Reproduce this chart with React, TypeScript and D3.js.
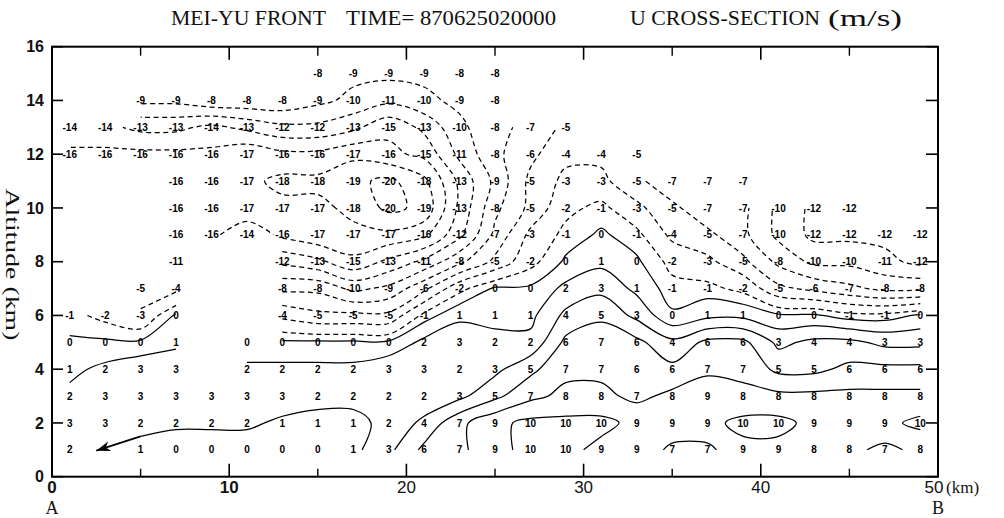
import React from 'react'
import * as d3 from 'd3'

const width = 1004
const height = 518

// grid columns: distance along A-B (km), grid rows: altitude (km)
const distances = [1, 3, 5, 7, 9, 11, 13, 15, 17, 19, 21, 23, 25, 27, 29, 31, 33, 35, 37, 39, 41, 43, 45, 47, 49]
const altitudes = [1, 2, 3, 4, 5, 6, 7, 8, 9, 10, 11, 12, 13, 14, 15]

// U wind (m/s) printed at each grid point, null = no value
const _ = null
const u1 = [2, _, 1, 0, 0, 0, 0, 0, 1, 3, 6, 7, 9, 10, 10, 9, 9, 7, 7, 9, 9, 8, 8, 7, 8]
const u2 = [3, 3, 2, 2, 2, 2, 1, 1, 1, 2, 4, 7, 9, 10, 10, 10, 9, 9, 9, 10, 10, 9, 9, 9, 10]
const u3 = [2, 3, 3, 3, 3, 3, 3, 2, 2, 2, 2, 3, 5, 7, 8, 8, 7, 8, 9, 8, 8, 8, 8, 8, 8]
const u4 = [1, 2, 3, 3, _, 2, 2, 2, 2, 3, 3, 2, 3, 5, 7, 7, 6, 6, 7, 7, 5, 5, 6, 6, 6]
const u5 = [0, 0, 0, 1, _, 0, 0, 0, 0, 0, 2, 3, 2, 2, 6, 7, 6, 4, 6, 6, 3, 4, 4, 3, 3]
const u6 = [-1, -2, -3, 0, _, _, -4, -5, -5, -5, -1, 1, 1, 1, 4, 5, 3, 0, 1, 1, 0, 0, -1, -1, 0]
const u7 = [_, _, -5, -4, _, _, -8, -8, -10, -9, -6, -2, 0, 0, 2, 3, 1, -1, -1, -2, -5, -6, -7, -8, -8]
const u8 = [_, _, _, -11, _, _, -12, -13, -15, -13, -11, -8, -5, -2, 0, 1, 0, -2, -3, -5, -8, -10, -10, -11, -12]
const u9 = [_, _, _, -16, -16, -14, -16, -17, -17, -17, -16, -12, -7, -3, -1, 0, -1, -4, -5, -7, -10, -12, -12, -12, -12]
const u10 = [_, _, _, -16, -16, -17, -17, -17, -18, -20, -19, -13, -8, -5, -2, -1, -3, -5, -7, -7, -10, -12, -12, _, _]
const u11 = [_, _, _, -16, -16, -17, -18, -18, -19, -20, -18, -13, -9, -5, -3, -3, -5, -7, -7, -7, _, _, _, _, _]
const u12 = [-16, -16, -16, -16, -16, -17, -16, -16, -17, -16, -15, -11, -8, -6, -4, -4, -5, _, _, _, _, _, _, _, _]
const u13 = [-14, -14, -13, -13, -14, -13, -12, -12, -13, -15, -13, -10, -8, -7, -5, _, _, _, _, _, _, _, _, _, _]
const u14 = [_, _, -9, -9, -8, -8, -8, -9, -10, -11, -10, -9, -8, _, _, _, _, _, _, _, _, _, _, _, _]
const u15 = [_, _, _, _, _, _, _, -8, -9, -9, -9, -8, -8, _, _, _, _, _, _, _, _, _, _, _, _]
const rows: (number | null)[][] = [u1, u2, u3, u4, u5, u6, u7, u8, u9, u10, u11, u12, u13, u14, u15]

// contour levels, interval 2 m/s (negative dashed)
const levels = [-20, -18, -16, -14, -12, -10, -8, -6, -4, -2, 0, 2, 4, 6, 8, 10]

const xTicks = [0, 10, 20, 30, 40, 50]
const xMinorTicks = [5, 15, 25, 35, 45]
const yTicks = [0, 2, 4, 6, 8, 10, 12, 14, 16]
const arrowLine: [number, number][] = [[5, 1.5], [2.5, 0.97]]

type Pt = [number, number]

// marching squares on the grid with gaps, chained into polylines
function traceLevel(thr: number) {
  const val = (i: number, j: number) => rows[j][i] as number
  const pts = new Map<string, Pt>()
  const segs: [string, string][] = []

  let edge = (kind: string, i: number, j: number) => {
    let key = kind + i + ',' + j
    if (!pts.has(key)) {
      let v0 = val(i, j)
      let v1 = kind === 'h' ? val(i + 1, j) : val(i, j + 1)
      let t = (thr - v0) / (v1 - v0)
      pts.set(key, kind === 'h'
        ? [distances[i] + t * (distances[i + 1] - distances[i]), altitudes[j]]
        : [distances[i], altitudes[j] + t * (altitudes[j + 1] - altitudes[j])])
    }
    return key
  }

  for (let j = 0; j < altitudes.length - 1; j++) {
    for (let i = 0; i < distances.length - 1; i++) {
      let a = rows[j][i], b = rows[j][i + 1], c = rows[j + 1][i + 1], d = rows[j + 1][i]
      if (a === null || b === null || c === null || d === null) continue
      let ia = a >= thr, ib = b >= thr, ic = c >= thr, id = d >= thr
      let bottom = () => edge('h', i, j)
      let right = () => edge('v', i + 1, j)
      let top = () => edge('h', i, j + 1)
      let left = () => edge('v', i, j)
      let cross: (() => string)[] = []
      if (ia !== ib) cross.push(bottom)
      if (ib !== ic) cross.push(right)
      if (ic !== id) cross.push(top)
      if (id !== ia) cross.push(left)
      if (cross.length === 2) {
        segs.push([cross[0](), cross[1]()])
      } else if (cross.length === 4) {
        let center = (a + b + c + d) / 4 >= thr
        let corners: [boolean, () => string, () => string][] = [
          [ia, bottom, left], [ib, bottom, right], [ic, right, top], [id, top, left]
        ]
        corners.forEach(([s, e1, e2]) => { if (s !== center) segs.push([e1(), e2()]) })
      }
    }
  }

  let adj = new Map<string, number[]>()
  segs.forEach((s, idx) => {
    s.forEach(k => {
      if (!adj.has(k)) adj.set(k, [])
      adj.get(k)!.push(idx)
    })
  })
  let used = segs.map(() => false)
  let walk = (startIdx: number, startKey: string) => {
    let keys = [startKey]
    let idx = startIdx
    let key = startKey
    while (idx !== -1) {
      used[idx] = true
      let s = segs[idx]
      key = s[0] === key ? s[1] : s[0]
      keys.push(key)
      let nxt = (adj.get(key) || []).find(n => !used[n])
      idx = nxt === undefined ? -1 : nxt
    }
    return keys
  }

  let lines: { points: Pt[], closed: boolean }[] = []
  let toPoints = (keys: string[]) => {
    let out: Pt[] = []
    keys.forEach(k => {
      let p = pts.get(k)!
      let last = out[out.length - 1]
      if (!last || Math.abs(last[0] - p[0]) + Math.abs(last[1] - p[1]) > 1e-6) out.push(p)
    })
    return out
  }
  adj.forEach((list, k) => {
    if (list.length === 1 && !used[list[0]]) lines.push({ points: toPoints(walk(list[0], k)), closed: false })
  })
  segs.forEach((s, idx) => {
    if (!used[idx]) {
      let keys = walk(idx, s[0])
      keys.pop()
      lines.push({ points: toPoints(keys), closed: true })
    }
  })
  return lines
}

let App = () => {
  let x = d3.scaleLinear().domain([0, 50]).range([52, 938])
  let y = d3.scaleLinear().domain([0, 16]).range([476.7, 46.7])

  let openLine = d3.line<Pt>().x(d => x(d[0])).y(d => y(d[1])).curve(d3.curveCatmullRom.alpha(0.5))
  let closedLine = d3.line<Pt>().x(d => x(d[0])).y(d => y(d[1])).curve(d3.curveCatmullRomClosed.alpha(0.5))
  let plainLine = d3.line<Pt>().x(d => x(d[0])).y(d => y(d[1]))

  // nudge each level towards zero so the printed integers fall on the right side
  let threshold = (l: number) => l < 0 ? l + 0.5 : l > 0 ? l - 0.5 : -0.25

  let contourPaths: { d: string, dashed: boolean }[] = []
  levels.forEach(l => {
    traceLevel(threshold(l)).forEach(ln => {
      if (ln.points.length < 2) return
      let d = ln.closed && ln.points.length > 2 ? closedLine(ln.points) : openLine(ln.points)
      if (d) contourPaths.push({ d, dashed: l < 0 })
    })
  })

  let labels: { x: number, y: number, v: number }[] = []
  rows.forEach((r, j) => r.forEach((v, i) => {
    if (v !== null) labels.push({ x: distances[i], y: altitudes[j], v })
  }))

  let tip = arrowLine[1]
  let from = arrowLine[0]
  let ang = Math.atan2(y(tip[1]) - y(from[1]), x(tip[0]) - x(from[0]))
  let hx = x(tip[0]), hy = y(tip[1])
  let head = [
    [hx, hy],
    [hx - 14 * Math.cos(ang) + 5 * Math.sin(ang), hy - 14 * Math.sin(ang) - 5 * Math.cos(ang)],
    [hx - 10 * Math.cos(ang), hy - 10 * Math.sin(ang)],
    [hx - 14 * Math.cos(ang) - 5 * Math.sin(ang), hy - 14 * Math.sin(ang) + 5 * Math.cos(ang)]
  ].map(p => p.join(',')).join(' ')

  let serif = "'Liberation Serif', 'DejaVu Serif', serif"
  let sans = "'Liberation Sans', Arial, sans-serif"

  return (
    <svg width={width} height={height} style={{ position: 'absolute', left: 0, top: 0, background: '#fff' }}>
      <rect x={0} y={0} width={width} height={height} fill="#fff" />

      {/* title */}
      <g fontFamily={serif} fontSize={21} fill="#111">
        <text x={171} y={25} textLength={155} lengthAdjust="spacingAndGlyphs">MEI-YU FRONT</text>
        <text x={346} y={25} textLength={210} lengthAdjust="spacingAndGlyphs">TIME= 870625020000</text>
        <text x={630} y={25} textLength={190} lengthAdjust="spacingAndGlyphs">U CROSS-SECTION</text>
        <text x={828} y={26} fontSize={24} textLength={74} lengthAdjust="spacingAndGlyphs">(m/s)</text>
      </g>

      {/* contours */}
      <g fill="none" stroke="#000" strokeWidth={1.25}>
        {contourPaths.map((p, i) => (
          <path key={i} d={p.d} strokeDasharray={p.dashed ? '5 3.5' : undefined} />
        ))}
        <path d={plainLine(arrowLine) || ''} strokeWidth={1.8} />
        <polygon points={head} fill="#000" stroke="none" />
      </g>

      {/* grid values */}
      <g fontFamily={sans} fontWeight="bold" fontSize={10} textAnchor="middle" fill="#000">
        {labels.map((l, i) => (
          <text key={i} x={x(l.x)} y={y(l.y)} dy="0.36em">{l.v}</text>
        ))}
      </g>

      {/* frame and ticks */}
      <g stroke="#000" fill="none">
        <rect x={x(0)} y={y(16)} width={x(50) - x(0)} height={y(0) - y(16)} strokeWidth={2} />
        {xTicks.map(t => (
          <g key={'x' + t}>
            <line x1={x(t)} x2={x(t)} y1={y(0)} y2={y(0) - 13} strokeWidth={1.6} />
            <line x1={x(t)} x2={x(t)} y1={y(16)} y2={y(16) + 13} strokeWidth={1.6} />
          </g>
        ))}
        {xMinorTicks.map(t => (
          <g key={'m' + t}>
            <line x1={x(t)} x2={x(t)} y1={y(0)} y2={y(0) - 8} strokeWidth={1.4} />
            <line x1={x(t)} x2={x(t)} y1={y(16)} y2={y(16) + 9} strokeWidth={1.4} />
          </g>
        ))}
        {yTicks.map(t => (
          <g key={'y' + t}>
            <line x1={x(0)} x2={x(0) + 11} y1={y(t)} y2={y(t)} strokeWidth={1.6} />
            <line x1={x(50)} x2={x(50) - 12} y1={y(t)} y2={y(t)} strokeWidth={1.6} />
          </g>
        ))}
      </g>

      {/* axis labels */}
      <g fontFamily={sans} fontWeight="bold" fontSize={16} fill="#111" textAnchor="end">
        {yTicks.map(t => (
          <text key={t} x={x(0) - 8} y={y(t)} dy="0.36em">{t}</text>
        ))}
      </g>
      <g fontFamily={sans} fontSize={17} fill="#111" textAnchor="middle">
        {xTicks.map(t => (
          <text key={t} x={t === 50 ? x(t) - 4 : x(t)} y={y(0) + 16.5} fontWeight={t < 20 ? 'bold' : 'normal'}>{t}</text>
        ))}
      </g>
      <text x={x(50) + 8} y={y(0) + 16.5} fontFamily={serif} fontSize={17} fill="#111">(km)</text>
      <text x={x(0)} y={514} fontFamily={serif} fontSize={18} fill="#111" textAnchor="middle">A</text>
      <text x={x(50)} y={514} fontFamily={serif} fontSize={18} fill="#111" textAnchor="middle">B</text>
      <text transform={`translate(6, ${y(7.9)}) rotate(90)`} fontFamily={serif} fontSize={19}
        textLength={152} lengthAdjust="spacingAndGlyphs" fill="#111" textAnchor="middle">Altitude (km)</text>
    </svg>
  )
}

export default App
